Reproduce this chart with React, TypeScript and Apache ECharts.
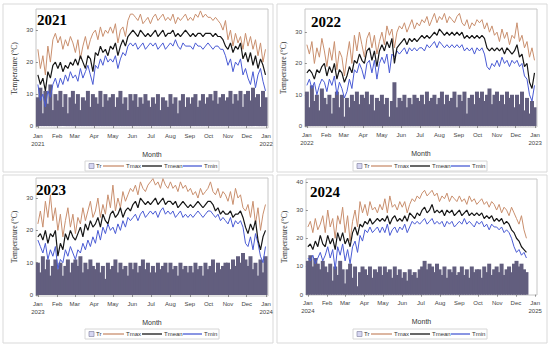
import React, { useEffect, useRef } from "react";
import * as echarts from "echarts";

// ---------------- DATA (one value every 4 days, Jan..Dec) ----------------
const YEARS = [2021, 2022, 2023, 2024];
const MONTHS = ["Jan", "Feb", "Mar", "Apr", "May", "Jun", "Jul", "Aug", "Sep", "Oct", "Nov", "Dec", "Jan"];
const STEP_DAYS = 4;

const tmax2021 = [
  24, 18, 22, 16, 25, 20, 27, 29, 26, 28, 24, 27, 25, 28, 26,
  23, 27, 21, 25, 28, 24, 27, 29, 30, 27, 31, 28, 30, 29, 31,
  29, 32, 26, 30, 31, 28, 33, 35, 35, 34, 33, 35, 32, 33, 34, 32,
  34, 35, 33, 34, 35, 33, 34, 33, 35, 32, 34, 33, 34, 35, 33,
  34, 33, 35, 34, 36, 34, 35, 34, 34, 33, 34, 33, 32, 30, 33,
  27, 30, 25, 29, 26, 28, 24, 29, 25, 28, 24, 27, 22, 26, 20, 24,
];
const tmean2021 = [
  16, 13, 15, 11, 17, 15, 19, 20, 18, 20, 17, 19, 18, 20, 19,
  21, 19, 22, 20, 18, 22, 21, 17, 23, 22, 25, 23, 24, 22, 25,
  24, 26, 22, 25, 27, 25, 28, 29, 30, 29, 28, 30, 29, 28, 29, 28,
  29, 30, 28, 29, 30, 28, 29, 29, 30, 28, 29, 28, 29, 30, 29,
  28, 29, 28, 29, 29, 28, 29, 29, 29, 28, 29, 28, 28, 27, 25,
  24, 26, 23, 25, 24, 26, 21, 23, 20, 23, 19, 22, 18, 21, 19, 16,
];
const tmin2021 = [
  13, 8, 10, 6, 11, 9, 13, 15, 12, 15, 13, 16, 14, 17, 15,
  16, 14, 18, 15, 17, 19, 16, 13, 19, 18, 21, 19, 22, 20, 21,
  20, 22, 18, 21, 23, 22, 25, 26, 25, 26, 24, 25, 26, 24, 25, 26,
  25, 26, 24, 25, 26, 24, 25, 26, 25, 27, 25, 24, 26, 25, 25,
  25, 24, 26, 25, 25, 24, 25, 26, 25, 24, 25, 25, 24, 24, 22,
  19, 21, 17, 20, 19, 21, 16, 18, 15, 13, 17, 12, 16, 18, 14, 11,
];
const tr2021 = [
  9, 12, 4, 11, 7, 13, 5, 10, 8, 11, 6, 10, 4, 9, 11,
  7, 10, 5, 9, 8, 11, 6, 10, 9, 7, 11, 6, 10, 8, 9,
  10, 6, 9, 11, 7, 9, 5, 10, 8, 10, 6, 9, 7, 10, 8, 6,
  9, 7, 10, 5, 9, 8, 6, 10, 7, 9, 4, 8, 10, 6, 9,
  7, 9, 10, 6, 8, 10, 7, 9, 10, 8, 11, 7, 9, 10, 8,
  9, 11, 7, 10, 8, 11, 6, 10, 11, 8, 12, 9, 10, 6, 11, 9,
];

const tmax2022 = [
  26, 23, 27, 20, 25, 22, 28, 24, 19, 25, 21, 27, 18, 24, 22,
  16, 22, 27, 20, 29, 24, 30, 26, 22, 28, 30, 25, 29, 23, 27,
  30, 26, 32, 29, 31, 25, 30, 32, 31, 33, 30, 32, 34, 31, 33, 32,
  34, 33, 35, 32, 34, 36, 33, 35, 34, 36, 33, 35, 34, 33, 35,
  36, 33, 32, 34, 31, 33, 32, 34, 33, 34, 31, 33, 30, 32, 29,
  30, 27, 31, 28, 30, 26, 29, 28, 33, 27, 29, 25, 27, 22, 25, 21,
];
const tmean2022 = [
  17, 18, 17, 15, 18, 17, 19, 20, 16, 19, 17, 20, 15, 18, 17,
  14, 16, 19, 17, 21, 20, 23, 21, 20, 24, 25, 21, 24, 19, 24,
  26, 24, 27, 25, 28, 20, 25, 26, 27, 28, 26, 28, 27, 28, 27, 28,
  29, 28, 29, 28, 29, 30, 29, 31, 30, 29, 30, 29, 30, 29, 30,
  29, 30, 28, 29, 28, 29, 28, 29, 28, 29, 28, 25, 24, 25, 24,
  25, 24, 25, 23, 25, 24, 23, 24, 26, 22, 23, 19, 20, 14, 12, 17,
];
const tmin2022 = [
  13, 15, 12, 14, 10, 13, 15, 14, 11, 15, 13, 16, 10, 14, 12,
  9, 11, 15, 12, 18, 17, 20, 18, 15, 20, 21, 17, 21, 15, 20,
  22, 20, 23, 17, 23, 22, 24, 23, 24, 25, 23, 25, 24, 25, 24, 25,
  25, 24, 26, 25, 26, 27, 25, 27, 26, 25, 26, 25, 26, 25, 26,
  25, 26, 24, 25, 24, 25, 23, 25, 24, 25, 23, 19, 18, 20, 19,
  21, 19, 22, 20, 21, 19, 21, 20, 21, 19, 20, 16, 15, 10, 8, 13,
];
const tr2022 = [
  11, 6, 13, 8, 10, 5, 12, 9, 7, 10, 4, 9, 11, 6, 10,
  3, 9, 6, 10, 8, 11, 7, 10, 9, 11, 7, 10, 5, 9, 8,
  10, 7, 9, 3, 8, 14, 6, 9, 8, 10, 6, 9, 7, 10, 9, 8,
  10, 7, 11, 8, 9, 10, 7, 9, 11, 7, 10, 8, 9, 11, 6,
  10, 8, 11, 4, 9, 10, 7, 11, 9, 11, 8, 10, 12, 7, 10,
  11, 8, 10, 7, 11, 9, 10, 6, 10, 7, 11, 5, 9, 4, 8, 6,
];

const tmax2023 = [
  22, 26, 21, 29, 24, 31, 23, 27, 20, 25, 18, 23, 27, 21, 25,
  19, 24, 22, 27, 23, 26, 29, 24, 26, 30, 24, 28, 25, 31, 27,
  34, 26, 30, 27, 32, 29, 31, 33, 32, 34, 31, 35, 33, 32, 34, 35,
  36, 34, 35, 33, 36, 34, 33, 35, 33, 34, 32, 35, 33, 34, 32,
  33, 31, 32, 30, 33, 31, 32, 33, 35, 32, 31, 33, 30, 32, 31,
  29, 32, 28, 33, 30, 31, 27, 26, 28, 24, 29, 22, 27, 20, 25, 28,
];
const tmean2023 = [
  18, 19, 17, 20, 16, 19, 18, 20, 12, 16, 14, 19, 17, 20, 18,
  17, 19, 21, 18, 22, 20, 23, 21, 22, 24, 21, 25, 23, 22, 25,
  26, 24, 25, 27, 24, 26, 27, 26, 28, 29, 27, 30, 29, 28, 29, 28,
  29, 30, 28, 29, 30, 28, 29, 29, 28, 29, 27, 28, 29, 28, 27,
  28, 27, 28, 29, 28, 27, 28, 29, 29, 28, 26, 27, 25, 26, 25,
  25, 26, 24, 25, 25, 26, 24, 21, 19, 22, 20, 23, 17, 14, 18, 20,
];
const tmin2023 = [
  17, 15, 13, 16, 11, 14, 12, 15, 8, 11, 10, 14, 12, 15, 13,
  11, 14, 13, 16, 14, 17, 15, 18, 16, 20, 17, 21, 19, 22, 20,
  21, 19, 22, 20, 23, 21, 24, 23, 24, 25, 23, 25, 26, 24, 25, 26,
  25, 26, 24, 26, 27, 25, 26, 25, 26, 24, 25, 26, 24, 25, 24,
  25, 24, 25, 26, 25, 24, 25, 26, 26, 25, 24, 25, 23, 24, 23,
  22, 24, 21, 23, 22, 23, 21, 16, 15, 18, 14, 19, 16, 12, 10, 15,
];
const tr2023 = [
  10, 7, 12, 8, 11, 6, 9, 11, 8, 10, 6, 9, 11, 7, 10,
  11, 9, 12, 7, 10, 8, 11, 9, 8, 10, 7, 9, 5, 10, 8,
  9, 11, 7, 10, 8, 9, 6, 10, 8, 10, 7, 9, 11, 8, 10, 7,
  9, 7, 10, 8, 9, 10, 7, 10, 8, 9, 6, 10, 8, 9, 7,
  9, 7, 10, 8, 9, 6, 10, 8, 9, 11, 7, 10, 8, 9, 10,
  10, 8, 11, 9, 12, 10, 13, 11, 9, 12, 8, 10, 6, 11, 7, 12,
];

const tmax2024 = [
  24, 26, 22, 27, 23, 25, 28, 22, 30, 24, 27, 20, 28, 25, 31,
  22, 28, 19, 26, 30, 24, 33, 29, 32, 28, 33, 30, 31, 29, 32,
  30, 34, 29, 35, 31, 32, 30, 33, 31, 33, 29, 32, 34, 33, 35, 34,
  36, 37, 35, 36, 37, 35, 36, 33, 35, 34, 36, 33, 35, 34, 33,
  35, 33, 34, 32, 35, 33, 34, 32, 33, 34, 32, 33, 31, 33, 32,
  30, 32, 29, 31, 30, 28, 31, 29, 27, 25, 28, 23, 20,
];
const tmean2024 = [
  17, 18, 16, 19, 17, 21, 18, 17, 21, 18, 20, 16, 22, 19, 22,
  18, 20, 17, 22, 24, 21, 25, 24, 26, 25, 27, 25, 26, 27, 26,
  27, 26, 28, 25, 27, 28, 26, 27, 26, 28, 26, 29, 28, 27, 29, 28,
  30, 31, 29, 30, 32, 29, 30, 29, 30, 28, 30, 29, 30, 28, 29,
  30, 28, 29, 30, 28, 29, 28, 29, 28, 29, 27, 28, 27, 28, 26,
  27, 26, 27, 25, 26, 25, 23, 22, 20, 19, 17, 16, 15,
];
const tmin2024 = [
  13, 12, 14, 11, 13, 15, 12, 14, 17, 13, 16, 9, 17, 14, 18,
  12, 16, 11, 17, 19, 15, 21, 19, 23, 22, 24, 22, 23, 24, 22,
  24, 22, 25, 21, 23, 24, 22, 24, 23, 25, 22, 24, 26, 25, 26, 25,
  26, 27, 25, 26, 27, 25, 26, 25, 26, 24, 26, 25, 26, 24, 25,
  26, 25, 27, 25, 26, 25, 24, 26, 25, 26, 24, 25, 23, 25, 24,
  24, 23, 24, 22, 23, 22, 20, 17, 15, 16, 14, 15, 13,
];
const tr2024 = [
  12, 14, 10, 13, 11, 9, 12, 10, 8, 11, 5, 10, 7, 12, 9,
  4, 9, 11, 6, 10, 3, 8, 10, 9, 7, 10, 6, 9, 8, 10,
  7, 10, 8, 9, 6, 10, 7, 9, 6, 8, 5, 9, 7, 8, 6, 9,
  10, 12, 9, 11, 10, 8, 11, 9, 7, 10, 6, 9, 8, 10, 7,
  8, 10, 7, 9, 6, 10, 8, 9, 9, 6, 10, 8, 11, 7, 9,
  10, 8, 11, 7, 9, 10, 8, 11, 12, 10, 11, 9, 8,
];

const Y_TICKS = [
  [0, 10, 20, 30],
  [0, 10, 20, 30],
  [0, 10, 20, 30],
  [0, 10, 20, 30, 40],
];

const TMAX = [tmax2021, tmax2022, tmax2023, tmax2024];
const TMEAN = [tmean2021, tmean2022, tmean2023, tmean2024];
const TMIN = [tmin2021, tmin2022, tmin2023, tmin2024];
const TR = [tr2021, tr2022, tr2023, tr2024];

// ---------------- LAYOUT / STYLE ----------------
const LAYOUT = [
  { left: 36, top: 9, width: 232, height: 119, ymin: -0.6, ymax: 36.6, title: [37, 12], legend: [85, 166], frame: [3, 4, 270, 168] },
  { left: 305, top: 9, width: 232, height: 118, ymin: -0.3, ymax: 37.4, title: [311, 14], legend: [353, 166], frame: [277, 4, 270, 168] },
  { left: 36, top: 178, width: 232, height: 118, ymin: -0.3, ymax: 36.2, title: [36, 182], legend: [85, 334], frame: [3, 175, 270, 168] },
  { left: 306, top: 179, width: 231, height: 116, ymin: -0.1, ymax: 41, title: [310, 184], legend: [353, 334], frame: [277, 175, 270, 168] },
];

const C_TMAX = "#c98f6e";
const C_TMEAN = "#161616";
const C_TMIN = "#4a5bd4";
const C_TR = "#625e7e";
const SANS = "'Liberation Sans', Arial, sans-serif";
const SERIF = "'Liberation Serif', 'Times New Roman', serif";

function monthStarts(year: number): number[] {
  const out: number[] = [];
  const t0 = Date.UTC(year, 0, 1);
  for (let m = 0; m <= 12; m++) {
    out.push(Math.round((Date.UTC(year, m, 1) - t0) / 86400000));
  }
  return out;
}

function txt(text: string, x: number, y: number, font: string, fill = "#333", align = "left") {
  return {
    type: "text",
    silent: true,
    style: { text, x, y, font, fill, align, verticalAlign: "middle", textAlign: align, textVerticalAlign: "middle" },
  };
}

function legendGroup(lx: number, ly: number) {
  const f = `6px ${SANS}`;
  return {
    type: "group",
    x: lx,
    y: ly,
    silent: true,
    children: [
      { type: "rect", shape: { x: 0, y: -5, width: 134, height: 10 }, style: { fill: "none", stroke: "#d6d6d6", lineWidth: 1 } },
      { type: "rect", shape: { x: 4, y: -2.5, width: 5, height: 5 }, style: { fill: "#d6d6f2", stroke: "#8a8aa8", lineWidth: 0.7 } },
      txt("Tr", 11, 0, f),
      { type: "line", shape: { x1: 18, y1: 0, x2: 39, y2: 0 }, style: { stroke: C_TMAX, lineWidth: 1.3 } },
      txt("Tmax", 41, 0, f),
      { type: "line", shape: { x1: 57, y1: 0, x2: 77, y2: 0 }, style: { stroke: C_TMEAN, lineWidth: 1.3 } },
      txt("Tmean", 79, 0, f),
      { type: "line", shape: { x1: 98, y1: 0, x2: 117, y2: 0 }, style: { stroke: C_TMIN, lineWidth: 1.3 } },
      txt("Tmin", 119, 0, f),
    ],
  };
}

export default function App() {
  const ref = useRef<HTMLDivElement>(null);

  useEffect(() => {
    if (!ref.current) return;
    const chart = echarts.init(ref.current, undefined, { renderer: "svg" });

    const grid: any[] = [];
    const xAxis: any[] = [];
    const yAxis: any[] = [];
    const series: any[] = [];
    const graphic: any[] = [];

    YEARS.forEach((year, k) => {
      const L = LAYOUT[k];
      const starts = monthStarts(year);
      const total = starts[12];

      grid.push({
        left: L.left, top: L.top, width: L.width, height: L.height,
        show: true, borderColor: "#c6c6c6", borderWidth: 1, backgroundColor: "transparent",
      });

      xAxis.push({
        type: "value",
        gridIndex: k,
        min: -3,
        max: total + 3,
        axisLine: { show: false },
        splitLine: { show: false },
        axisTick: { show: true, customValues: starts, length: 2, lineStyle: { color: "#777", width: 0.8 } },
        axisLabel: {
          customValues: starts,
          fontSize: 6,
          fontFamily: SANS,
          color: "#444",
          lineHeight: 8,
          margin: 4,
          formatter: (v: number) => {
            const idx = starts.indexOf(Math.round(v));
            if (idx < 0) return "";
            if (idx === 0) return `${MONTHS[0]}\n${year}`;
            if (idx === 12) return `${MONTHS[12]}\n${year + 1}`;
            return MONTHS[idx];
          },
        },
      });

      yAxis.push({
        type: "value",
        gridIndex: k,
        min: L.ymin,
        max: L.ymax,
        axisLine: { show: false },
        splitLine: { show: false },
        axisTick: { show: true, customValues: Y_TICKS[k], length: 2, lineStyle: { color: "#777", width: 0.8 } },
        axisLabel: { customValues: Y_TICKS[k], fontSize: 6, fontFamily: SANS, color: "#444", margin: 3 },
      });

      const xs = (arr: number[]) => arr.map((v, i) => [i * STEP_DAYS, v]);

      series.push({
        type: "bar", name: "Tr", xAxisIndex: k, yAxisIndex: k,
        data: xs(TR[k]), barWidth: 4, itemStyle: { color: C_TR }, silent: true,
      });
      series.push({
        type: "line", name: "Tmax", xAxisIndex: k, yAxisIndex: k, data: xs(TMAX[k]),
        showSymbol: false, lineStyle: { width: 1, color: C_TMAX }, itemStyle: { color: C_TMAX }, silent: true,
      });
      series.push({
        type: "line", name: "Tmin", xAxisIndex: k, yAxisIndex: k, data: xs(TMIN[k]),
        showSymbol: false, lineStyle: { width: 1, color: C_TMIN }, itemStyle: { color: C_TMIN }, silent: true,
      });
      series.push({
        type: "line", name: "Tmean", xAxisIndex: k, yAxisIndex: k, data: xs(TMEAN[k]),
        showSymbol: false, lineStyle: { width: 1.2, color: C_TMEAN }, itemStyle: { color: C_TMEAN }, silent: true,
      });

      const [fx, fy, fw, fh] = L.frame;
      graphic.push({
        type: "rect", silent: true, z: -10,
        shape: { x: fx, y: fy, width: fw, height: fh },
        style: { fill: "none", stroke: "#d9d9d9", lineWidth: 1 },
      });
      graphic.push({
        type: "text", silent: true, z: 100,
        style: {
          text: String(year), x: L.title[0], y: L.title[1],
          font: `bold 15px ${SERIF}`, fill: "#000",
          verticalAlign: "top", textVerticalAlign: "top",
        },
      });
      // x-axis title
      graphic.push(txt("Month", L.left + L.width / 2, L.top + L.height + 26, `7px ${SANS}`, "#333", "center"));
      // y-axis title (rotated)
      graphic.push({
        type: "text", silent: true,
        x: L.left - 22, y: L.top + L.height / 2, rotation: Math.PI / 2,
        style: {
          text: "Temperature (°C)", x: 0, y: 0, font: `7.5px ${SERIF}`, fill: "#333",
          align: "center", verticalAlign: "middle", textAlign: "center", textVerticalAlign: "middle",
        },
      });
      graphic.push(legendGroup(L.legend[0], L.legend[1]));
    });

    chart.setOption({
      animation: false,
      backgroundColor: "#ffffff",
      grid,
      xAxis,
      yAxis,
      series,
      graphic,
    });

    return () => chart.dispose();
  }, []);

  return (
    <div
      ref={ref}
      style={{ position: "fixed", left: 0, top: 0, width: 550, height: 347, background: "#fff" }}
    />
  );
}
